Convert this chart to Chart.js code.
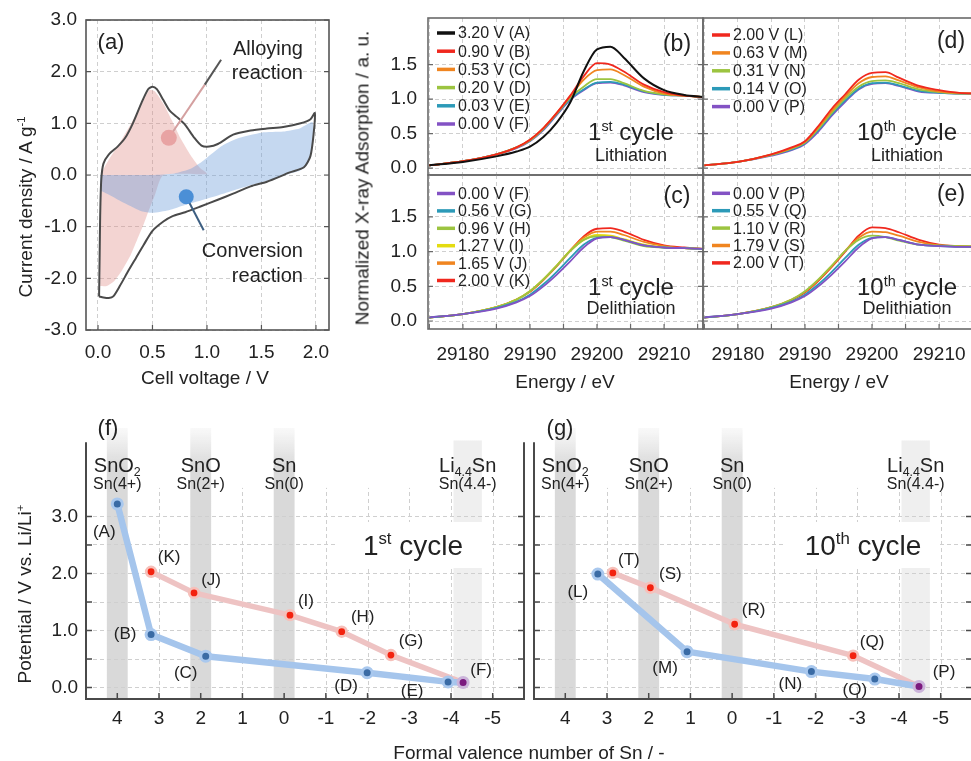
<!DOCTYPE html>
<html>
<head>
<meta charset="utf-8">
<script src="https://cdn.jsdelivr.net/npm/chart.js@4.4.1/dist/chart.umd.min.js"></script>
<style>
  body { margin: 0; width: 971px; height: 761px; overflow: hidden; background: #fff; position: relative;
         font-family: "Liberation Sans", Arial, sans-serif; color: #222; }
  .pane { position: absolute; }
  .t { position: absolute; white-space: nowrap; line-height: 1; }
  .c { transform: translate(-50%, -50%); }
  .r { transform: translate(-100%, -50%); }
  .v { transform: translate(-50%, -50%) rotate(-90deg); }
  sup { font-size: 0.6em; line-height: 0; vertical-align: 0.6em; }
</style>
</head>
<body>
<div class="pane" style="left:0;top:0"><canvas id="panelA" width="345" height="380"></canvas></div>
<div class="pane" style="left:340px;top:0"><canvas id="panelB" width="370" height="180"></canvas></div>
<div class="pane" style="left:340px;top:170px"><canvas id="panelC" width="370" height="220"></canvas></div>
<div class="pane" style="left:693px;top:0"><canvas id="panelD" width="300" height="180"></canvas></div>
<div class="pane" style="left:693px;top:170px"><canvas id="panelE" width="300" height="220"></canvas></div>
<div class="pane" style="left:0;top:400px"><canvas id="panelF" width="540" height="361"></canvas></div>
<div class="pane" style="left:524px;top:400px"><canvas id="panelG" width="460" height="361"></canvas></div>

<!-- (a) -->
<div class="t c" style="left:111px;top:42px;font-size:22px">(a)</div>
<div class="t r" style="left:303px;top:48px;font-size:20px">Alloying</div>
<div class="t r" style="left:303px;top:72px;font-size:20px">reaction</div>
<div class="t r" style="left:303px;top:250px;font-size:20px">Conversion</div>
<div class="t r" style="left:303px;top:275px;font-size:20px">reaction</div>
<div class="t v" style="left:25px;top:207px;font-size:19px">Current density / A g<sup>-1</sup></div>
<div class="t c" style="left:205px;top:377px;font-size:19px">Cell voltage / V</div>

<!-- (b)-(e) -->
<div class="t v" style="left:362px;top:178px;font-size:19px">Normalized X-ray Adsorption / a. u.</div>
<div class="t c" style="left:565px;top:381px;font-size:19px">Energy / eV</div>
<div class="t c" style="left:839px;top:381px;font-size:19px">Energy / eV</div>
<div class="t c" style="left:677px;top:43px;font-size:23px">(b)</div>
<div class="t c" style="left:677px;top:195px;font-size:23px">(c)</div>
<div class="t c" style="left:951px;top:40px;font-size:23px">(d)</div>
<div class="t c" style="left:951px;top:193px;font-size:23px">(e)</div>
<div class="t c" style="left:631px;top:132px;font-size:24px">1<sup>st</sup> cycle</div>
<div class="t c" style="left:631px;top:155px;font-size:18px">Lithiation</div>
<div class="t c" style="left:631px;top:287px;font-size:24px">1<sup>st</sup> cycle</div>
<div class="t c" style="left:631px;top:308px;font-size:18px">Delithiation</div>
<div class="t c" style="left:907px;top:132px;font-size:24px">10<sup>th</sup> cycle</div>
<div class="t c" style="left:907px;top:155px;font-size:18px">Lithiation</div>
<div class="t c" style="left:907px;top:287px;font-size:24px">10<sup>th</sup> cycle</div>
<div class="t c" style="left:907px;top:308px;font-size:18px">Delithiation</div>

<!-- (f)-(g) -->
<div class="t c" style="left:108px;top:428px;font-size:22px">(f)</div>
<div class="t c" style="left:560px;top:428px;font-size:22px">(g)</div>
<div class="t v" style="left:24px;top:594px;font-size:19px">Potential / V vs. Li/Li<sup>+</sup></div>
<div class="t c" style="left:529px;top:752px;font-size:19px">Formal valence number of Sn / -</div>

<script>
// ---------- panel (a): cyclic voltammogram ----------
const cvVolt = [0.01, 0.015, 0.02, 0.03, 0.05, 0.10, 0.18, 0.25, 0.32, 0.40, 0.46, 0.50, 0.54, 0.60, 0.66, 0.72,
  0.80, 0.88, 0.95, 1.02, 1.10, 1.24, 1.40, 1.55, 1.70, 1.86, 1.95, 1.99, 1.98, 1.95, 1.89, 1.76, 1.55, 1.40,
  1.24, 1.10, 0.94, 0.80, 0.68, 0.60, 0.50, 0.42, 0.35, 0.28, 0.20, 0.14, 0.10, 0.05, 0.01];
const cvCurr = [-2.35, -1.60, -0.80, -0.10, 0.22, 0.40, 0.55, 0.72, 1.00, 1.40, 1.66, 1.71, 1.66, 1.45, 1.24, 1.13,
  0.97, 0.73, 0.57, 0.55, 0.60, 0.78, 0.86, 0.90, 0.93, 1.00, 1.08, 1.20, 0.82, 0.37, 0.15, 0.05, -0.13, -0.22,
  -0.36, -0.48, -0.61, -0.72, -0.80, -0.90, -1.08, -1.35, -1.60, -1.85, -2.15, -2.35, -2.38, -2.37, -2.35];

const alloyVolt = [0.02, 0.02, 0.03, 0.10, 0.20, 0.30, 0.40, 0.47, 0.52, 0.60, 0.68, 0.76, 0.85, 0.93, 1.00,
  0.60, 0.52, 0.46, 0.42, 0.36, 0.30, 0.22, 0.15, 0.08, 0.02];
const alloyCurr = [-2.15, -1.00, 0.00, 0.30, 0.62, 0.98, 1.38, 1.64, 1.62, 1.38, 1.05, 0.70, 0.38, 0.15, 0.02,
  0.00, -0.40, -0.72, -0.95, -1.25, -1.55, -1.85, -2.05, -2.15, -2.15];

const convVolt = [0.02, 0.50, 0.70, 0.85, 0.95, 1.05, 1.15, 1.30, 1.50, 1.70, 1.85, 1.97, 1.96, 1.92, 1.85, 1.75,
  1.60, 1.40, 1.20, 1.00, 0.80, 0.65, 0.50, 0.40, 0.25, 0.10, 0.02];
const convCurr = [0.00, 0.00, 0.03, 0.12, 0.25, 0.42, 0.58, 0.72, 0.82, 0.84, 0.90, 1.02, 0.50, 0.20, 0.08, 0.02,
  -0.08, -0.20, -0.33, -0.46, -0.58, -0.68, -0.73, -0.70, -0.55, -0.38, -0.30];

const alloyMarkVolt = [0.65], alloyMarkCurr = [0.72];
const convMarkVolt = [0.81], convMarkCurr = [-0.42];
const alloyPtrVolt = [0.65, 0.98, 1.13], alloyPtrCurr = [0.72, 1.75, 2.23];
const convPtrVolt = [0.81, 0.97], convPtrCurr = [-0.42, -1.07];

// ---------- panels (b)-(e): XANES spectra ----------
const energy = [29175, 29180, 29185, 29188, 29190, 29192, 29194, 29196, 29198, 29200, 29202, 29204, 29207, 29210, 29213, 29216];

const bVolts = ['3.20', '0.90', '0.53', '0.20', '0.03', '0.00'];
const bNames = ['A', 'B', 'C', 'D', 'E', 'F'];
const bSpectra = [
  [0.04, 0.09, 0.17, 0.24, 0.31, 0.45, 0.66, 0.95, 1.40, 1.72, 1.76, 1.60, 1.30, 1.13, 1.06, 1.03],
  [0.04, 0.10, 0.20, 0.30, 0.41, 0.58, 0.80, 1.05, 1.33, 1.52, 1.50, 1.40, 1.21, 1.10, 1.05, 1.03],
  [0.04, 0.10, 0.20, 0.30, 0.41, 0.58, 0.80, 1.04, 1.28, 1.42, 1.43, 1.35, 1.18, 1.08, 1.05, 1.03],
  [0.04, 0.10, 0.20, 0.30, 0.40, 0.57, 0.79, 1.02, 1.18, 1.29, 1.29, 1.23, 1.12, 1.07, 1.05, 1.03],
  [0.04, 0.10, 0.20, 0.30, 0.40, 0.56, 0.78, 1.00, 1.14, 1.24, 1.25, 1.21, 1.11, 1.06, 1.05, 1.03],
  [0.04, 0.10, 0.20, 0.29, 0.39, 0.55, 0.77, 0.99, 1.13, 1.23, 1.24, 1.20, 1.10, 1.06, 1.05, 1.03],
];

const cVolts = ['0.00', '0.56', '0.96', '1.27', '1.65', '2.00'];
const cNames = ['F', 'G', 'H', 'I', 'J', 'K'];
const cSpectra = [
  [0.05, 0.10, 0.18, 0.27, 0.36, 0.50, 0.67, 0.86, 1.06, 1.19, 1.21, 1.17, 1.09, 1.06, 1.05, 1.04],
  [0.05, 0.10, 0.19, 0.28, 0.38, 0.53, 0.71, 0.91, 1.10, 1.20, 1.21, 1.17, 1.09, 1.06, 1.05, 1.04],
  [0.05, 0.10, 0.20, 0.31, 0.43, 0.60, 0.80, 1.01, 1.17, 1.22, 1.21, 1.16, 1.08, 1.06, 1.05, 1.04],
  [0.05, 0.10, 0.20, 0.31, 0.43, 0.60, 0.80, 1.01, 1.17, 1.24, 1.23, 1.18, 1.10, 1.06, 1.05, 1.04],
  [0.05, 0.10, 0.20, 0.31, 0.43, 0.60, 0.80, 1.02, 1.20, 1.29, 1.29, 1.24, 1.14, 1.08, 1.05, 1.04],
  [0.05, 0.10, 0.20, 0.31, 0.42, 0.59, 0.79, 1.01, 1.22, 1.33, 1.34, 1.29, 1.17, 1.09, 1.06, 1.04],
];

const dVolts = ['2.00', '0.63', '0.31', '0.14', '0.00'];
const dNames = ['L', 'M', 'N', 'O', 'P'];
const dSpectra = [
  [0.04, 0.09, 0.20, 0.30, 0.39, 0.61, 0.86, 1.07, 1.28, 1.38, 1.39, 1.31, 1.19, 1.13, 1.09, 1.08],
  [0.04, 0.09, 0.20, 0.29, 0.38, 0.59, 0.83, 1.04, 1.23, 1.32, 1.33, 1.27, 1.17, 1.11, 1.09, 1.08],
  [0.04, 0.09, 0.19, 0.28, 0.37, 0.57, 0.80, 1.01, 1.18, 1.26, 1.27, 1.23, 1.14, 1.10, 1.08, 1.08],
  [0.04, 0.09, 0.19, 0.27, 0.36, 0.55, 0.78, 0.98, 1.15, 1.23, 1.24, 1.20, 1.12, 1.09, 1.08, 1.08],
  [0.04, 0.09, 0.18, 0.26, 0.35, 0.53, 0.76, 0.96, 1.14, 1.22, 1.23, 1.19, 1.11, 1.09, 1.08, 1.08],
];

const eVolts = ['0.00', '0.55', '1.10', '1.79', '2.00'];
const eNames = ['P', 'Q', 'R', 'S', 'T'];
const eSpectra = [
  [0.05, 0.10, 0.18, 0.27, 0.36, 0.50, 0.67, 0.86, 1.06, 1.19, 1.21, 1.17, 1.10, 1.08, 1.07, 1.07],
  [0.05, 0.10, 0.19, 0.28, 0.38, 0.53, 0.71, 0.91, 1.10, 1.20, 1.21, 1.17, 1.10, 1.08, 1.07, 1.07],
  [0.05, 0.10, 0.20, 0.31, 0.43, 0.60, 0.80, 1.01, 1.17, 1.23, 1.21, 1.16, 1.10, 1.09, 1.08, 1.08],
  [0.05, 0.10, 0.20, 0.31, 0.42, 0.59, 0.79, 1.01, 1.20, 1.29, 1.28, 1.23, 1.14, 1.09, 1.08, 1.07],
  [0.05, 0.10, 0.20, 0.30, 0.41, 0.58, 0.78, 1.00, 1.23, 1.35, 1.34, 1.28, 1.17, 1.10, 1.08, 1.07],
];

// ---------- panels (f)-(g): potential vs formal valence ----------
const f1LithValence = [4.00, 3.19, 1.88, -1.99, -3.93, -4.29];
const f1LithPotential = [3.22, 0.93, 0.55, 0.26, 0.10, 0.09];
const f1LithNames = ['A', 'B', 'C', 'D', 'E', 'F'];
const f1DelithValence = [-4.29, -2.56, -1.38, -0.14, 2.16, 3.19];
const f1DelithPotential = [0.09, 0.57, 0.98, 1.27, 1.66, 2.03];
const f1DelithNames = ['F', 'G', 'H', 'I', 'J', 'K'];

const g10LithValence = [3.22, 1.08, -1.90, -3.42, -4.48];
const g10LithPotential = [1.99, 0.63, 0.28, 0.15, 0.02];
const g10LithNames = ['L', 'M', 'N', 'O', 'P'];
const g10DelithValence = [-4.48, -2.90, -0.06, 1.96, 2.86];
const g10DelithPotential = [0.02, 0.56, 1.11, 1.75, 2.01];
const g10DelithNames = ['P', 'Q', 'R', 'S', 'T'];

const phaseValence = [4, 2, 0, -4.4];
const phaseFormula = [['SnO', '2'], ['SnO'], ['Sn'], ['Li', '4.4', 'Sn']];
const phaseOxidation = ['Sn(4+)', 'Sn(2+)', 'Sn(0)', 'Sn(4.4-)'];

// ---------- styles ----------
const FONT = '"Liberation Sans", Arial, sans-serif';
const GRID = '#cfcfcf';
const DASH = [4, 3];
const PURPLE = '#8352c4';
const bColors = ['#111111', '#f0281e', '#f08520', '#9cc440', '#2c9ab8', PURPLE];
const cColors = [PURPLE, '#2c9ab8', '#9cc440', '#e4dc10', '#f08520', '#f0281e'];
const dColors = ['#f0281e', '#f08520', '#9cc440', '#2c9ab8', PURPLE];
const eColors = [PURPLE, '#2c9ab8', '#9cc440', '#f08520', '#f0281e'];
const bandHalf = [0.25, 0.25, 0.25, 0.34];
const bandRGB = ['217,217,217', '217,217,217', '217,217,217', '239,239,239'];
const bandTop = [0, 0, 0, 12];
const bandFade = [40, 40, 40, 1];
const labelShift = {
  A: [-13, 28], B: [-26, 0], C: [-20, 17], D: [-21, 14], E: [-36, 9], F: [18, -12],
  G: [20, -14], H: [21, -14], I: [16, -14], J: [17, -13], K: [18, -14],
  L: [-20, 18], M: [-22, 17], N: [-21, 13], O: [-20, 11], P: [25, -14],
  Q: [19, -13], R: [19, -14], S: [20, -13], T: [16, -13],
};

Chart.defaults.font.family = FONT;
Chart.defaults.color = '#222';
Chart.defaults.animation = false;

const pts = (xs, ys) => xs.map((x, i) => ({ x, y: ys[i] }));

// axis boxes of fixed size, so every chart area lands where the figure has it
const fitY = w => s => { s.width = w; s.paddingTop = 0; s.paddingBottom = 0; };
const fitX = h => s => { s.height = h; s.paddingLeft = 0; s.paddingRight = 0; };

function richText(ctx, parts, x, base, size, align) {
  let w = 0;
  parts.forEach(p => { ctx.font = `${size * p.k}px ${FONT}`; p.w = ctx.measureText(p.t).width; w += p.w; });
  let cx = align === 'center' ? x - w / 2 : x;
  ctx.textAlign = 'left';
  ctx.textBaseline = 'alphabetic';
  parts.forEach(p => {
    ctx.font = `${size * p.k}px ${FONT}`;
    ctx.fillText(p.t, cx, base + p.dy * size);
    cx += p.w;
  });
}

const framePlugin = {
  id: 'frame',
  afterDatasetsDraw(chart, args, opts) {
    const { ctx, chartArea: a, scales: { x, y } } = chart;
    ctx.save();
    ctx.strokeStyle = opts.color;
    ctx.lineWidth = opts.width;
    ctx.strokeRect(a.left, a.top, a.right - a.left, a.bottom - a.top);
    ctx.lineWidth = 1.2;
    ctx.beginPath();
    if (opts.bottomTicks) {
      x.ticks.forEach(t => {
        const px = x.getPixelForValue(t.value);
        ctx.moveTo(px, a.bottom); ctx.lineTo(px, a.bottom - 5);
      });
    }
    y.ticks.forEach(t => {
      const py = y.getPixelForValue(t.value);
      ctx.moveTo(a.left, py); ctx.lineTo(a.left + 5, py);
      ctx.moveTo(a.right, py); ctx.lineTo(a.right - 5, py);
    });
    ctx.stroke();
    ctx.restore();
  },
};

const curveLegend = {
  id: 'curveLegend',
  afterDatasetsDraw(chart, args, opts) {
    const { ctx, chartArea: a } = chart;
    ctx.save();
    ctx.font = `16px ${FONT}`;
    ctx.textBaseline = 'middle';
    chart.data.datasets.forEach((ds, i) => {
      const y = a.top + opts.top + i * opts.gap;
      ctx.strokeStyle = ds.borderColor;
      ctx.lineWidth = 3.5;
      ctx.beginPath();
      ctx.moveTo(a.left + 9, y);
      ctx.lineTo(a.left + 27, y);
      ctx.stroke();
      ctx.fillStyle = '#222';
      ctx.fillText(ds.label, a.left + 30, y + 1);
    });
    ctx.restore();
  },
};

const valencePlugin = {
  id: 'valence',
  beforeDraw(chart) {
    const { ctx, chartArea: a, scales: { x, y } } = chart;
    ctx.save();
    ctx.strokeStyle = GRID;
    ctx.lineWidth = 1;
    ctx.setLineDash(DASH);
    const gridTop = y.getPixelForValue(3.5);
    x.ticks.forEach(t => {
      const px = Math.round(x.getPixelForValue(t.value)) + 0.5;
      ctx.beginPath();
      ctx.moveTo(px, a.bottom);
      ctx.lineTo(px, gridTop);
      ctx.stroke();
    });
    ctx.setLineDash([]);
    phaseValence.forEach((v, i) => {
      const x0 = x.getPixelForValue(v + bandHalf[i]);
      const x1 = x.getPixelForValue(v - bandHalf[i]);
      const top = a.top + bandTop[i];
      const grad = ctx.createLinearGradient(0, top, 0, top + bandFade[i]);
      grad.addColorStop(0, `rgba(${bandRGB[i]},0.15)`);
      grad.addColorStop(1, `rgba(${bandRGB[i]},1)`);
      ctx.fillStyle = grad;
      ctx.fillRect(Math.min(x0, x1), top, Math.abs(x1 - x0), a.bottom - top);
    });
    ctx.restore();
  },
  beforeDatasetsDraw(chart, args, opts) {
    const { ctx, chartArea: a } = chart;
    ctx.save();
    ctx.fillStyle = '#fff';
    ctx.fillRect(a.left + opts.cx - 77, a.top + opts.cy - 23, 154, 46);
    ctx.restore();
  },
  afterDatasetsDraw(chart, args, opts) {
    const { ctx, chartArea: a, scales: { x, y } } = chart;
    ctx.save();
    // axis lines with inward ticks
    ctx.strokeStyle = '#4a4a4a';
    ctx.lineWidth = 2;
    const axTop = y.getPixelForValue(4.3);
    ctx.beginPath();
    ctx.moveTo(a.left, axTop); ctx.lineTo(a.left, a.bottom); ctx.lineTo(a.right, a.bottom); ctx.lineTo(a.right, axTop);
    ctx.stroke();
    ctx.lineWidth = 1.5;
    ctx.beginPath();
    y.ticks.forEach(t => {
      const py = y.getPixelForValue(t.value);
      ctx.moveTo(a.left, py); ctx.lineTo(a.left + 6, py);
      ctx.moveTo(a.right, py); ctx.lineTo(a.right - 6, py);
    });
    x.ticks.forEach(t => {
      const px = x.getPixelForValue(t.value);
      ctx.moveTo(px, a.bottom); ctx.lineTo(px, a.bottom - 6);
    });
    ctx.stroke();
    // point labels
    ctx.fillStyle = '#222';
    ctx.font = `17px ${FONT}`;
    ctx.textAlign = 'center';
    ctx.textBaseline = 'middle';
    const seen = new Set();
    chart.data.datasets.forEach((ds, di) => {
      chart.getDatasetMeta(di).data.forEach((el, j) => {
        const name = ds.names[j];
        if (seen.has(name)) return;
        seen.add(name);
        const [dx, dy] = labelShift[name];
        ctx.fillText(`(${name})`, el.x + dx, el.y + dy);
      });
    });
    // phase labels
    phaseValence.forEach((v, i) => {
      const px = x.getPixelForValue(v);
      const parts = phaseFormula[i].map((t, k) => (k % 2 ? { t, k: 0.62, dy: 0.22 } : { t, k: 1, dy: 0 }));
      richText(ctx, parts, px, a.top + 44, 20, 'center');
      ctx.font = `16px ${FONT}`;
      ctx.textAlign = 'center';
      ctx.textBaseline = 'middle';
      ctx.fillText(phaseOxidation[i], px, a.top + 57);
    });
    // cycle label
    richText(ctx, [{ t: opts.lead, k: 1, dy: 0 }, { t: opts.sup, k: 0.6, dy: -0.38 }, { t: ' cycle', k: 1, dy: 0 }],
      a.left + opts.cx, a.top + opts.cy + 10, 28, 'center');
    ctx.restore();
  },
};

// ---------- panel (a) ----------
new Chart(document.getElementById('panelA'), {
  type: 'scatter',
  data: {
    datasets: [
      { data: pts(alloyMarkVolt, alloyMarkCurr), pointRadius: 8, pointBackgroundColor: '#e8a3a3', pointBorderWidth: 0 },
      { data: pts(convMarkVolt, convMarkCurr), pointRadius: 7.5, pointBackgroundColor: '#4b8fd6', pointBorderWidth: 0 },
      { data: pts(alloyPtrVolt, alloyPtrCurr), showLine: true, borderWidth: 2, pointRadius: 0, borderColor: '#d9a5a5',
        segment: { borderColor: c => (c.p0DataIndex === 0 ? '#d4a0a0' : '#555555') } },
      { data: pts(convPtrVolt, convPtrCurr), showLine: true, borderColor: '#3d5f82', borderWidth: 2, pointRadius: 0 },
      { data: pts(cvVolt, cvCurr), showLine: true, borderColor: '#4a4a4a', borderWidth: 2, pointRadius: 0, tension: 0.25 },
      { data: pts(convVolt, convCurr), showLine: true, borderWidth: 0, borderColor: 'rgba(0,0,0,0)',
        backgroundColor: 'rgba(110,158,218,0.4)', fill: 'shape', pointRadius: 0, tension: 0.2 },
      { data: pts(alloyVolt, alloyCurr), showLine: true, borderWidth: 0, borderColor: 'rgba(0,0,0,0)',
        backgroundColor: 'rgba(221,132,126,0.35)', fill: 'shape', pointRadius: 0, tension: 0.2 },
    ],
  },
  options: {
    responsive: false,
    animation: false,
    layout: { padding: { left: 0, top: 20, right: 345 - 329, bottom: 0 } },
    plugins: {
      legend: { display: false }, tooltip: { enabled: false },
      frame: { color: '#555', width: 1.6, bottomTicks: true },
    },
    scales: {
      x: {
        type: 'linear', min: -0.11, max: 2.12,
        ticks: { stepSize: 0.5, includeBounds: false, font: { size: 19 }, padding: 11, maxRotation: 0, callback: v => v.toFixed(1) },
        grid: { color: GRID, drawTicks: false }, border: { display: false, dash: DASH },
        afterFit: fitX(380 - 330),
      },
      y: {
        min: -3, max: 3,
        ticks: { stepSize: 1, font: { size: 19 }, padding: 9, callback: v => v.toFixed(1) },
        grid: { color: GRID, drawTicks: false }, border: { display: false, dash: DASH },
        afterFit: fitY(86),
      },
    },
  },
  plugins: [framePlugin],
});

// ---------- panels (b)-(e) ----------
function xanesChart(id, W, H, L, T, R, B, volts, names, spectra, colors, yMin, yMax, showY, showX, legTop, legGap) {
  new Chart(document.getElementById(id), {
    type: 'line',
    data: {
      datasets: spectra.map((vals, i) => ({
        label: `${volts[i]} V (${names[i]})`,
        data: pts(energy, vals),
        borderColor: colors[i],
        borderWidth: colors[i] === '#111111' ? 2 : 1.8,
        pointRadius: 0,
        cubicInterpolationMode: 'monotone',
        fill: false,
      })),
    },
    options: {
      responsive: false,
      animation: false,
      layout: { padding: { left: 0, top: T, right: W - R, bottom: 0 } },
      plugins: {
        legend: { display: false }, tooltip: { enabled: false },
        curveLegend: { top: legTop, gap: legGap },
        frame: { color: '#6a6a6a', width: 1.6, bottomTicks: showX },
      },
      scales: {
        x: {
          type: 'linear', min: 29174.8, max: 29215.8,
          ticks: { display: showX, stepSize: 5, includeBounds: false, autoSkip: false, maxRotation: 0,
                   font: { size: 19 }, padding: 14, callback: v => (v % 10 === 0 ? String(v) : '') },
          grid: { color: GRID, drawTicks: false }, border: { display: false, dash: DASH },
          afterFit: fitX(H - B),
        },
        y: {
          min: yMin, max: yMax,
          afterBuildTicks: s => { s.ticks = s.ticks.filter(t => t.value <= 1.51); },
          ticks: { display: showY, stepSize: 0.5, includeBounds: false, font: { size: 19 }, padding: 11, callback: v => v.toFixed(1) },
          grid: { color: GRID, drawTicks: false }, border: { display: false, dash: DASH },
          afterFit: fitY(L),
        },
      },
    },
    plugins: [curveLegend, framePlugin],
  });
}

xanesChart('panelB', 370, 180, 88, 18, 363, 175, bVolts, bNames, bSpectra, bColors, -0.1, 2.175, true, false, 15, 18.2);
xanesChart('panelC', 370, 220, 88, 5, 363, 159, cVolts, cNames, cSpectra, cColors, -0.115, 2.105, true, true, 18.5, 17.4);
xanesChart('panelD', 300, 180, 10, 18, 285, 175, dVolts, dNames, dSpectra, dColors, -0.1, 2.175, false, false, 17, 17.9);
xanesChart('panelE', 300, 220, 10, 5, 285, 159, eVolts, eNames, eSpectra, eColors, -0.115, 2.105, false, true, 18.3, 17.4);

// ---------- panels (f)-(g) ----------
function valenceChart(id, W, L, R, lithV, lithP, lithN, delV, delP, delN, showY, cycle) {
  const H = 361, T = 28, B = 299;
  const endName = lithN[lithN.length - 1];
  new Chart(document.getElementById(id), {
    type: 'scatter',
    data: {
      datasets: [
        {
          data: pts(lithV, lithP), names: lithN, showLine: true,
          borderColor: '#a5c5ec', borderWidth: 6.5, borderCapStyle: 'round', borderJoinStyle: 'round',
          pointRadius: 5, pointBorderWidth: 3,
          pointBackgroundColor: c => (lithN[c.dataIndex] === endName ? '#7b1a7e' : '#3a6ba5'),
          pointBorderColor: c => (lithN[c.dataIndex] === endName ? '#cbb4da' : '#a9c8ee'),
        },
        {
          data: pts(delV, delP), names: delN, showLine: true,
          borderColor: '#eec3c3', borderWidth: 5.5, borderCapStyle: 'round', borderJoinStyle: 'round',
          pointRadius: c => (delN[c.dataIndex] === endName ? 0 : 4.8), pointBorderWidth: 2.8,
          pointBackgroundColor: '#f3220f', pointBorderColor: '#f6c0ba',
        },
      ],
    },
    options: {
      responsive: false,
      animation: false,
      layout: { padding: { left: 0, top: T, right: W - R, bottom: 0 } },
      plugins: { legend: { display: false }, tooltip: { enabled: false }, valence: cycle },
      scales: {
        x: {
          type: 'linear', reverse: true, min: -5.75, max: 4.75,
          ticks: { stepSize: 1, includeBounds: false, autoSkip: false, maxRotation: 0, font: { size: 19 }, padding: 8,
                   callback: v => String(Math.round(v)) },
          grid: { display: false, drawTicks: false }, border: { display: false },
          afterFit: fitX(H - B),
        },
        y: {
          min: -0.2, max: 4.55,
          afterBuildTicks: s => { s.ticks = s.ticks.filter(t => t.value <= 3.001); },
          ticks: { display: showY, stepSize: 0.5, includeBounds: false, font: { size: 19 }, padding: 8,
                   callback: v => (Number.isInteger(v) ? v.toFixed(1) : '') },
          grid: { color: GRID, drawTicks: false }, border: { display: false, dash: DASH },
          afterFit: fitY(L),
        },
      },
    },
    plugins: [valencePlugin],
  });
}

valenceChart('panelF', 540, 86, 524, f1LithValence, f1LithPotential, f1LithNames,
  f1DelithValence, f1DelithPotential, f1DelithNames, true, { lead: '1', sup: 'st', cx: 327, cy: 117 });
valenceChart('panelG', 460, 10, 448, g10LithValence, g10LithPotential, g10LithNames,
  g10DelithValence, g10DelithPotential, g10DelithNames, false, { lead: '10', sup: 'th', cx: 329, cy: 117 });
</script>
</body>
</html>
